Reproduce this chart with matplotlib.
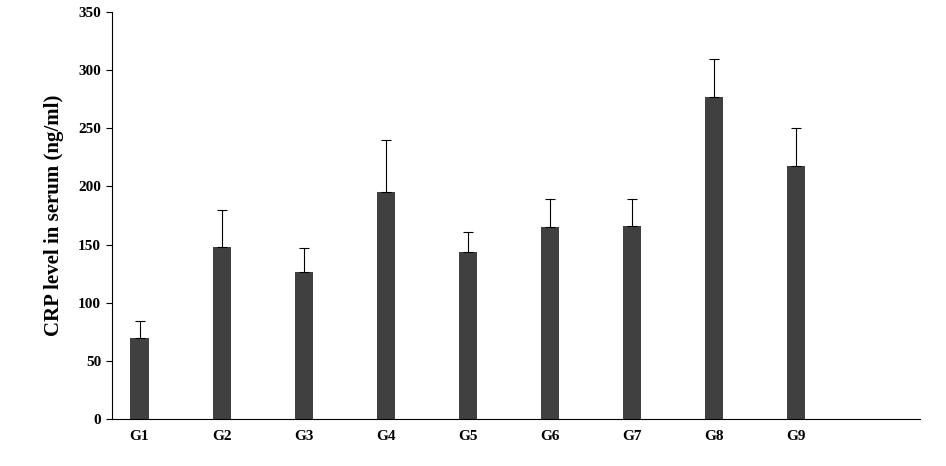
import matplotlib; matplotlib.use('Agg')
import matplotlib.pyplot as plt
import numpy as np

plt.rcParams.update({'font.family': 'Liberation Serif', 'font.weight': 'bold', 'font.size': 11})

groups = ['G1', 'G2', 'G3', 'G4', 'G5', 'G6', 'G7', 'G8', 'G9']
crp = [70, 148, 126, 195, 144, 165, 166, 277, 218]
err = [14, 32, 21, 45, 17, 24, 23, 33, 32]

fig = plt.figure(figsize=(9.46, 4.66), dpi=100)
ax = fig.add_axes([0.118, 0.101, 0.854, 0.873])
x = np.arange(len(groups))
ax.bar(x, crp, width=0.22, color='#404040',
       yerr=[np.zeros(len(err)), err], error_kw=dict(ecolor='black', elinewidth=0.8, capsize=3.5, capthick=0.8))
ax.set_xlim(-0.34, 9.51)
ax.set_ylim(0, 350)
ax.set_yticks(range(0, 351, 50))
ax.set_xticks(x)
ax.set_xticklabels(groups)
ax.tick_params(axis='x', length=0, pad=8)
ax.tick_params(axis='y', direction='out', length=4)
for s in ['top', 'right']:
    ax.spines[s].set_visible(False)
ax.set_ylabel('CRP level in serum (ng/ml)', fontsize=15, fontweight='bold', labelpad=10)
fig.savefig('out.png', dpi=100)
